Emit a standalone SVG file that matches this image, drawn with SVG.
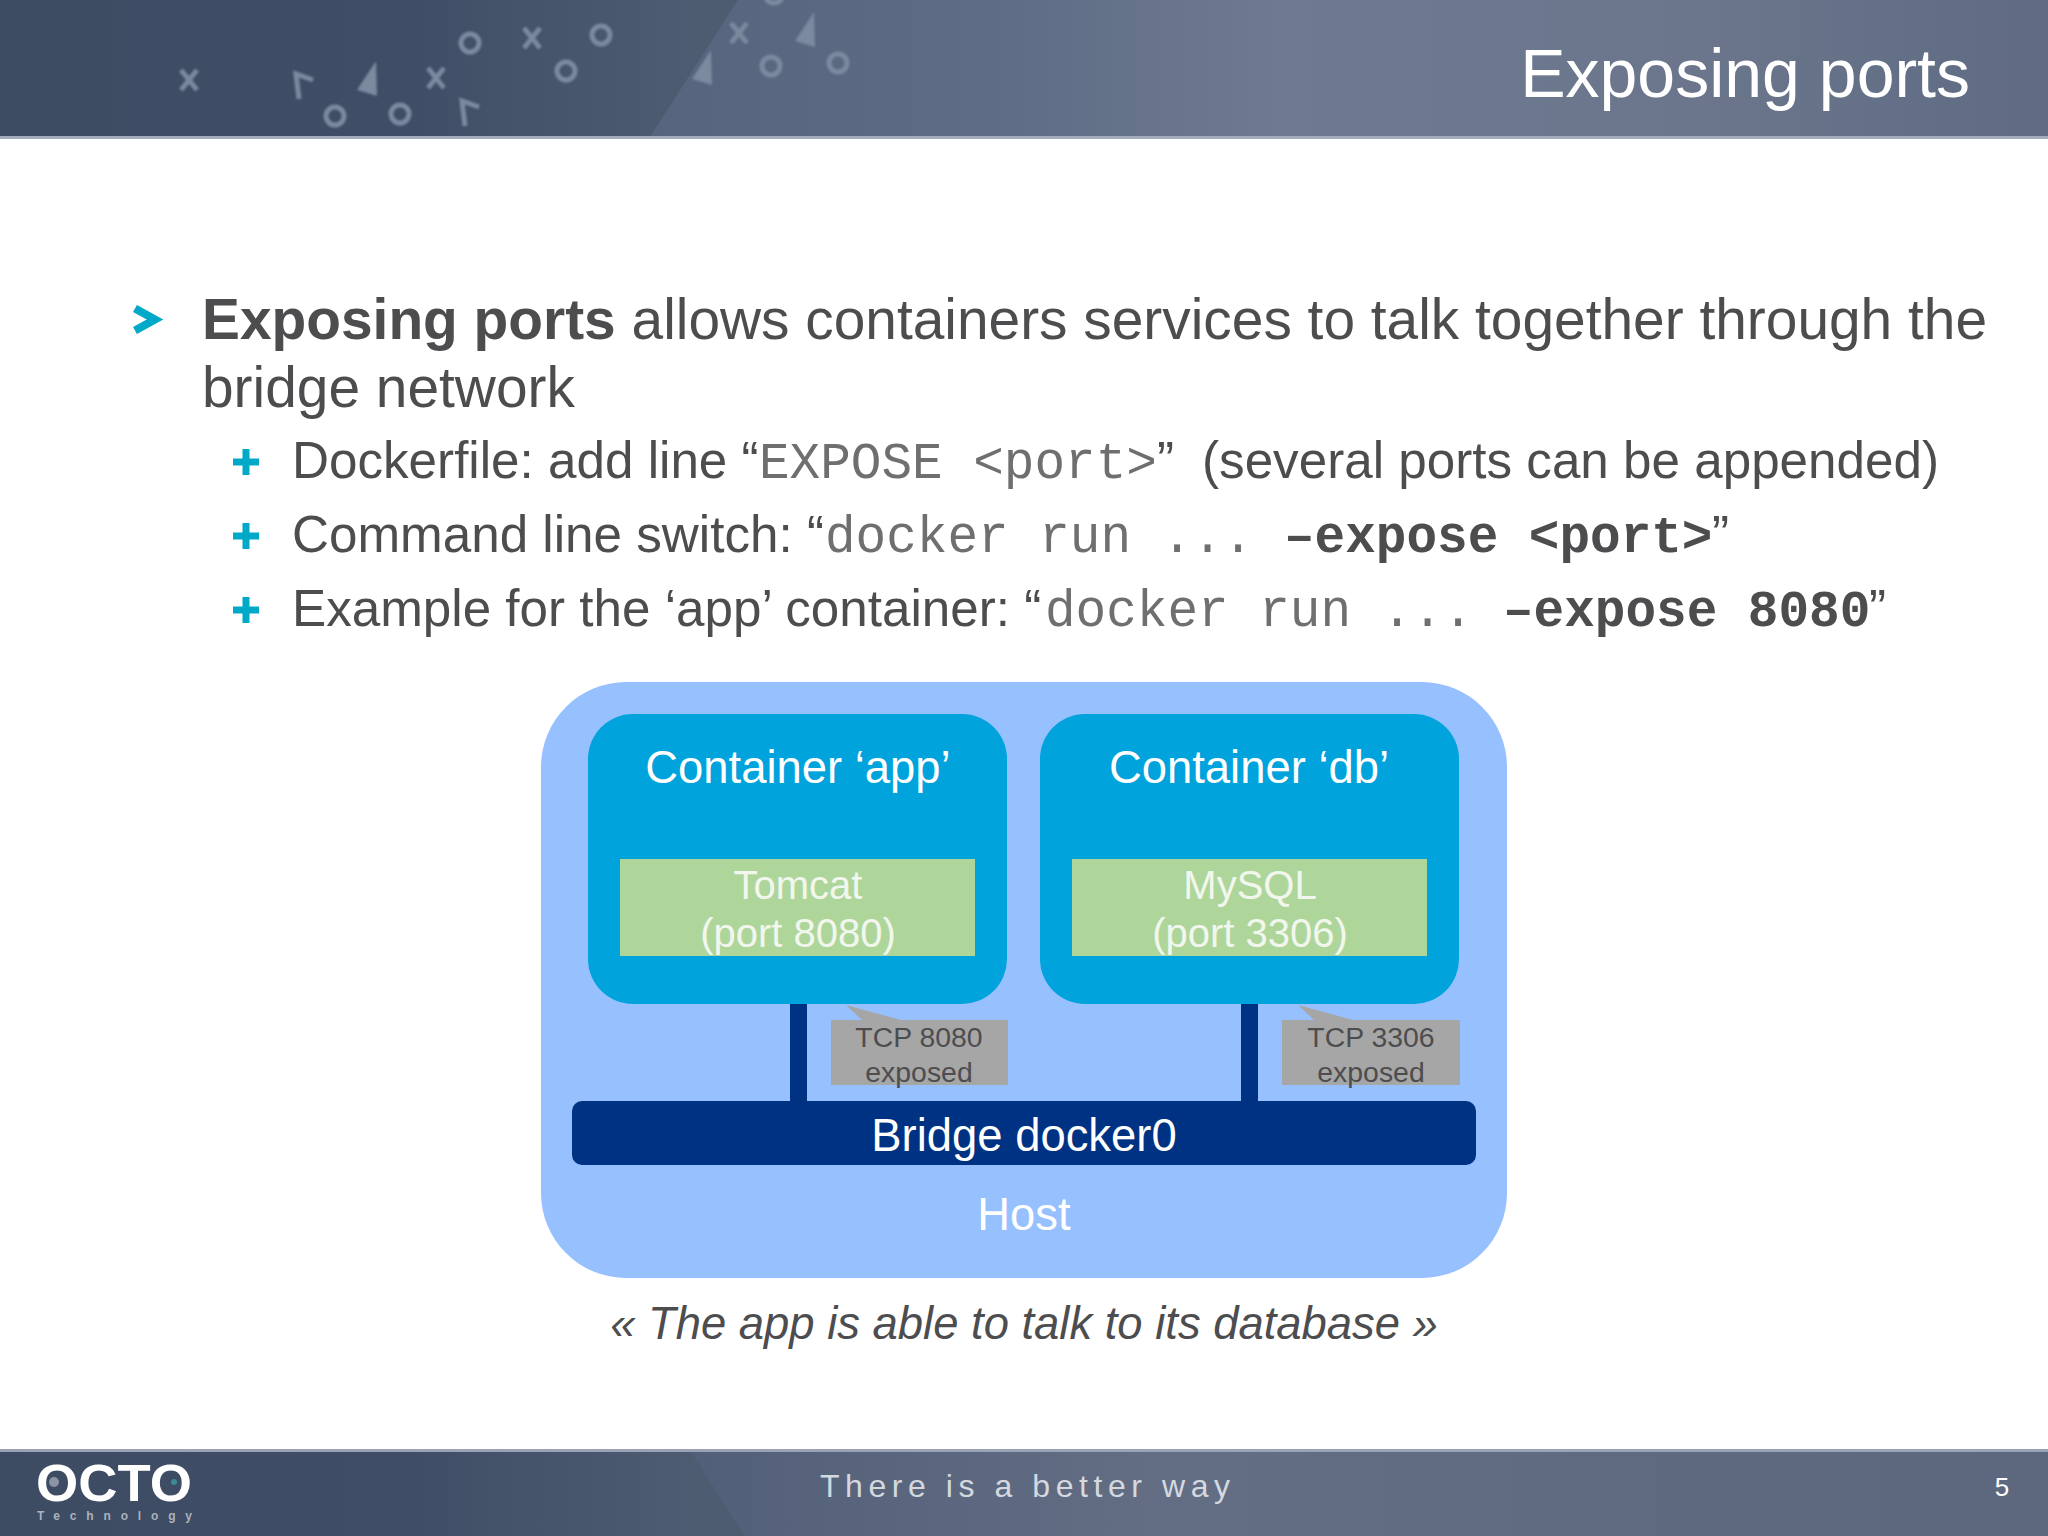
<svg xmlns="http://www.w3.org/2000/svg" width="2048" height="1536" viewBox="0 0 2048 1536">
<defs>
<linearGradient id="bandL" x1="0" y1="0" x2="1" y2="0"><stop offset="0" stop-color="#3d4b63"/><stop offset="0.2" stop-color="#3f4d66"/><stop offset="0.34" stop-color="#4e5c72"/><stop offset="1" stop-color="#4e5c72"/></linearGradient>
<linearGradient id="wedge" x1="0" y1="0" x2="1" y2="0"><stop offset="0" stop-color="#56647d"/><stop offset="0.25" stop-color="#5f6c85"/><stop offset="0.45" stop-color="#6d7a91"/><stop offset="0.75" stop-color="#6b768c"/><stop offset="1" stop-color="#5e6b82"/></linearGradient>
<linearGradient id="wedgeF" x1="0" y1="0" x2="1" y2="0"><stop offset="0" stop-color="#525f78"/><stop offset="0.35" stop-color="#636e84"/><stop offset="0.7" stop-color="#5f6a80"/><stop offset="1" stop-color="#5d687f"/></linearGradient>
<filter id="soft" x="-5%" y="-20%" width="110%" height="140%"><feGaussianBlur stdDeviation="0.8"/></filter>
<g id="o"><circle r="9" fill="none" stroke="#7c899f" stroke-width="5"/></g>
<g id="x"><path d="M-8,-10 L8,10 M8,-10 L-8,10" stroke="#7c899f" stroke-width="5" fill="none"/></g>
<polygon id="t" points="-10,13 9,-16 10,19" fill="#7c899f"/>
<path id="k" d="M-5,14 L-8,-11 L9,-5" stroke="#7c899f" stroke-width="5" fill="none"/>
<path id="plus" d="M-3.500,-13 H3.500 V-3.500 H13 V3.500 H3.500 V13 H-3.500 V3.500 H-13 V-3.500 H-3.500 Z" fill="#00a9c8"/>
</defs>
<style>
text{font-family:"Liberation Sans",Arial,sans-serif}
.b{fill:#4d4d4f;font-size:56.85px}
.s{fill:#4d4d4f;font-size:51.2px}
.m{font-family:"Liberation Mono","Courier New",monospace;font-size:51px;fill:#6f6f71}
.mb{font-family:"Liberation Mono","Courier New",monospace;font-size:51px;font-weight:bold}
.w{fill:#fff;font-size:45.4px;text-anchor:middle}
.g{fill:#f2f7ee;font-size:40px;text-anchor:middle}
.tcp{fill:#4d4d4f;font-size:28.4px;text-anchor:middle}
.host{fill:#97c0ff}.cont{fill:#00a3dc}.svc{fill:#aed69b}.navy{fill:#003283}.grey{fill:#a6a6a6}
</style>
<rect width="2048" height="1536" fill="#fff"/>
<g id="header">
<rect width="2048" height="137" fill="url(#bandL)"/>
<polygon points="738,0 2048,0 2048,137 650,137" fill="url(#wedge)"/>
<rect y="136" width="2048" height="3" fill="#a3abbc"/>
<g filter="url(#soft)">
<use href="#x" x="189" y="80"/><use href="#k" x="304" y="85"/><use href="#t" x="367" y="77"/><use href="#x" x="436" y="78"/>
<use href="#o" x="335" y="116"/><use href="#o" x="400" y="114"/><use href="#k" x="470" y="112"/><use href="#o" x="470" y="43"/>
<use href="#x" x="532" y="38"/><use href="#o" x="601" y="35"/><use href="#o" x="566" y="71"/><use href="#t" x="702" y="66"/>
<use href="#x" x="739" y="33"/><use href="#t" x="805" y="28"/><use href="#o" x="771" y="66"/><use href="#o" x="838" y="63"/><use href="#o" x="774" y="-6"/>
</g>
<text x="1970" y="97" text-anchor="end" fill="#fff" font-size="68">Exposing ports</text>
</g>
<g id="body">
<path d="M135,308.500 L155,319.500 L135,330.500" fill="none" stroke="#00a9c8" stroke-width="8"/>
<text class="b" x="202" y="339"><tspan font-weight="bold">Exposing ports</tspan> allows containers services to talk together through the</text>
<text class="b" x="202" y="407">bridge network</text>
<use href="#plus" x="246" y="462"/><use href="#plus" x="246" y="536"/><use href="#plus" x="246" y="610"/>
<text class="s" x="292" y="478">Dockerfile: add line “<tspan class="m" x="759">EXPOSE &lt;port&gt;</tspan><tspan x="1157">”</tspan><tspan x="1202">(several ports can be appended)</tspan></text>
<text class="s" x="292" y="552">Command line switch: “<tspan class="m" x="825">docker run ... </tspan><tspan class="mb" x="1284">–expose &lt;port&gt;</tspan><tspan x="1712">”</tspan></text>
<text class="s" x="292" y="626">Example for the ‘app’ container: “<tspan class="m" x="1045">docker run ... </tspan><tspan class="mb" x="1503">–expose 8080</tspan><tspan x="1869">”</tspan></text>
</g>
<g id="host"><rect class="host" x="541" y="682" width="966" height="596" rx="85"/><text class="w" x="1024" y="1230">Host</text></g>
<g id="connectors">
<rect class="navy" x="790" y="1004" width="17" height="98"/>
<rect class="navy" x="1241" y="1004" width="17" height="98"/>
</g>
<g id="container-app"><rect class="cont" x="588" y="714" width="419" height="290" rx="45"/><text class="w" x="798" y="783">Container ‘app’</text></g>
<g id="container-db"><rect class="cont" x="1040" y="714" width="419" height="290" rx="45"/><text class="w" x="1249" y="783">Container ‘db’</text></g>
<g id="tomcat"><rect class="svc" x="620" y="859" width="355" height="97"/><text class="g" x="798" y="899">Tomcat</text><text class="g" x="798" y="947">(port 8080)</text></g>
<g id="mysql"><rect class="svc" x="1072" y="859" width="355" height="97"/><text class="g" x="1250" y="899">MySQL</text><text class="g" x="1250" y="947">(port 3306)</text></g>
<g id="tcp8080"><polygon class="grey" points="846,1005 901,1020 1008,1020 1008,1085 831,1085 831,1020 862,1020"/><text class="tcp" x="919" y="1047">TCP 8080</text><text class="tcp" x="919" y="1082">exposed</text></g>
<g id="tcp3306"><polygon class="grey" points="1298,1005 1353,1020 1460,1020 1460,1085 1282,1085 1282,1020 1314,1020"/><text class="tcp" x="1371" y="1047">TCP 3306</text><text class="tcp" x="1371" y="1082">exposed</text></g>
<g id="bridge"><rect class="navy" x="572" y="1101" width="904" height="64" rx="10"/><text class="w" x="1024" y="1151">Bridge docker0</text></g>
<text x="1024" y="1339" text-anchor="middle" font-size="45.4" font-style="italic" fill="#4d4d4f">« The app is able to talk to its database »</text>
<g id="footer">
<rect y="1450" width="2048" height="86" fill="url(#bandL)"/>
<polygon points="690,1450 2048,1450 2048,1536 745,1536" fill="url(#wedgeF)"/>
<rect y="1449" width="2048" height="3" fill="#9aa3b5"/>
<text x="36" y="1501" font-size="52" font-weight="bold" fill="#fff" textLength="156" lengthAdjust="spacingAndGlyphs">OCTO</text>
<circle cx="54" cy="1482" r="5" fill="#8b94a4"/>
<circle cx="174" cy="1482" r="3" fill="#3d8a96"/>
<text x="37" y="1520" font-size="12" font-weight="bold" fill="#aab2be" textLength="155" lengthAdjust="spacing">Technology</text>
<text x="820" y="1497" font-size="32" fill="#d4d9e0" textLength="410" lengthAdjust="spacing">There is a better way</text>
<text x="2002" y="1496" font-size="26" fill="#fff" text-anchor="middle">5</text>
</g>
</svg>
